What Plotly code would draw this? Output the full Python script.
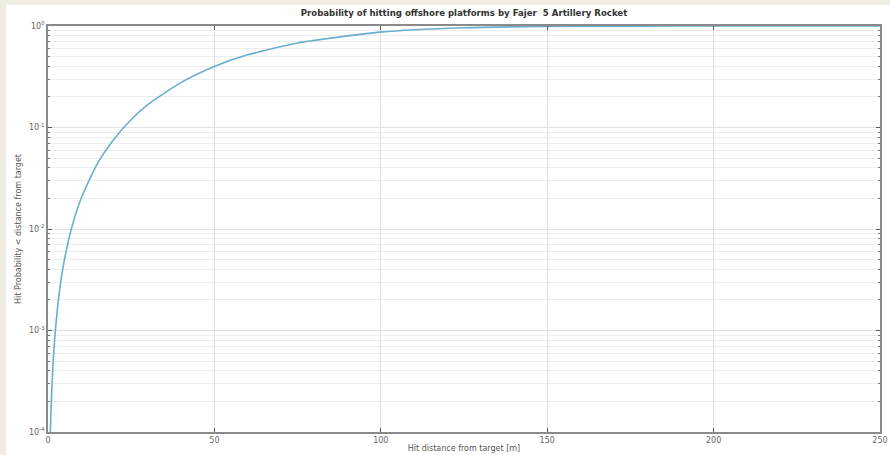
import plotly.graph_objects as go

# Data
distance_m = [0.7, 1, 1.5, 2, 3, 4, 5, 7, 10, 15, 20, 25, 30, 40, 50, 60, 75,
              100, 125, 150, 175, 200, 250]
hit_prob = [1.0e-4, 2.0e-4, 4.6e-4, 8.2e-4, 1.84e-3, 3.3e-3, 5.1e-3, 0.0100,
            0.0202, 0.045, 0.078, 0.12, 0.168, 0.278, 0.40, 0.52, 0.68,
            0.87, 0.96, 0.99, 0.998, 1.0, 1.0]

x_ticks = [0, 50, 100, 150, 200, 250]
y_exps = [-4, -3, -2, -1, 0]
y_tickvals = [10 ** e for e in y_exps]
y_ticktext = ["10<sup>%d</sup>" % e for e in y_exps]
y_minor = [k * 10 ** e for e in range(-4, 0) for k in range(2, 10)]

title = "Probability of hitting offshore platforms by Fajer  5 Artillery Rocket"

fig = go.Figure()
fig.add_trace(go.Scatter(
    x=distance_m, y=hit_prob, mode="lines",
    line=dict(color="#6aaed0", width=1.6, shape="spline", smoothing=0.6),
    showlegend=False,
))

axis_font = dict(family="DejaVu Sans", size=8, color="#666666")

fig.update_layout(
    width=890, height=455,
    margin=dict(l=48, r=10, t=26, b=23, autoexpand=False),
    paper_bgcolor="#efece2",
    plot_bgcolor="white",
    title=dict(text="<b>" + title + "</b>", x=0.5, xref="paper",
               y=1 - 13 / 455, yref="container", yanchor="middle",
               font=dict(family="DejaVu Sans", size=8.6, color="#333333")),
    xaxis=dict(
        range=[0, 250], tickmode="array", tickvals=x_ticks,
        ticks="inside", ticklen=4, tickcolor="#555555",
        showgrid=True, gridcolor="#dedede", gridwidth=1,
        showline=True, linecolor="#8a8a8a", linewidth=1.5, mirror="ticks",
        zeroline=False, tickfont=axis_font, automargin=False,
        title=dict(text="Hit distance from target [m]", standoff=1,
                   font=dict(family="DejaVu Sans", size=8, color="#555555")),
    ),
    yaxis=dict(
        type="log", range=[-4, 0], tickmode="array",
        tickvals=y_tickvals, ticktext=y_ticktext,
        ticks="inside", ticklen=4, tickcolor="#555555",
        showgrid=True, gridcolor="#e2e2e2", gridwidth=1,
        showline=True, linecolor="#8a8a8a", linewidth=1.5, mirror="ticks",
        zeroline=False, tickfont=axis_font, automargin=False,
        minor=dict(tickmode="array", tickvals=y_minor, ticks="inside",
                   ticklen=2, tickcolor="#777777", showgrid=True,
                   gridcolor="#ececec", gridwidth=1),
        title=dict(text="Hit Probability < distance from target", standoff=6,
                   font=dict(family="DejaVu Sans", size=8, color="#555555")),
    ),
)

# white figure area (the reference has a beige strip on the left and top)
fig.add_shape(type="rect", xref="paper", yref="paper",
              x0=(6 - 48) / 832, x1=1 + 10 / 832,
              y0=-23 / 406, y1=1 + 21 / 406,
              fillcolor="white", line=dict(width=0), layer="below")

fig.write_html("out.html",
               config={"displayModeBar": False},
               post_script="document.body.style.margin='0';"
                           "document.body.style.overflow='hidden';")
